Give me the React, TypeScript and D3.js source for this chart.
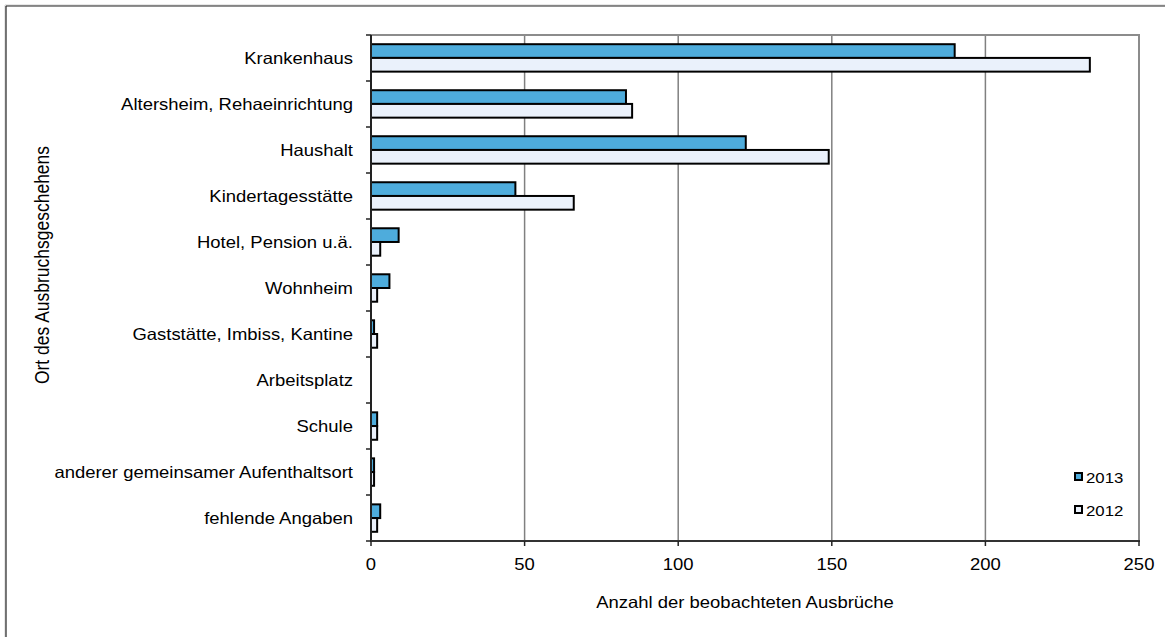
import React from "react";
import * as d3 from "d3";

const categories = [
  "Krankenhaus",
  "Altersheim, Rehaeinrichtung",
  "Haushalt",
  "Kindertagesstätte",
  "Hotel, Pension u.ä.",
  "Wohnheim",
  "Gaststätte, Imbiss, Kantine",
  "Arbeitsplatz",
  "Schule",
  "anderer gemeinsamer Aufenthaltsort",
  "fehlende Angaben",
];
const series2013 = [190, 83, 122, 47, 9, 6, 1, 0, 2, 1, 3];
const series2012 = [234, 85, 149, 66, 3, 2, 2, 0, 2, 1, 2];
const seriesNames = ["2013", "2012"];
const xTicks = [0, 50, 100, 150, 200, 250];

const W = 1165;
const H = 637;
const plot = { left: 371, right: 1139, top: 35, bottom: 541 };
const font = "'Liberation Sans', Arial, sans-serif";
const colors = ["#4EACDC", "#EAF1FB"];
const SX = 1.12;

function T(props: {
  x: number;
  y: number;
  anchor?: "start" | "middle" | "end";
  size: number;
  children: React.ReactNode;
}) {
  return (
    <text
      transform={`translate(${props.x},${props.y}) scale(${SX},1)`}
      textAnchor={props.anchor || "start"}
      fontSize={props.size}
      fill="#000"
    >
      {props.children}
    </text>
  );
}

export default function App() {
  const x = d3.scaleLinear().domain([0, 250]).range([plot.left, plot.right]);
  const y = d3
    .scaleBand<string>()
    .domain(categories)
    .range([plot.top, plot.bottom])
    .paddingInner(0.404)
    .paddingOuter(0.2);
  const sub = d3
    .scaleBand<string>()
    .domain(seriesNames)
    .range([0, y.bandwidth()]);
  const step = (plot.bottom - plot.top) / categories.length;
  const all = [series2013, series2012];

  return (
    <svg
      width={W}
      height={H}
      style={{ position: "absolute", left: 0, top: 0, fontFamily: font }}
    >
      <rect x={0} y={0} width={W} height={H} fill="#fff" />
      {/* outer frame (left & top visible) */}
      <line x1={5} x2={W} y1={5} y2={5} stroke="#d0d0d0" strokeWidth={1} />
      <line x1={5} x2={5} y1={5} y2={H} stroke="#d0d0d0" strokeWidth={1} />
      <line x1={6} x2={W} y1={6} y2={6} stroke="#222" strokeWidth={1.2} />
      <line x1={6} x2={6} y1={6} y2={H} stroke="#222" strokeWidth={1.2} />
      {/* gridlines */}
      {xTicks.slice(1, -1).map((t) => (
        <line
          key={t}
          x1={x(t)}
          x2={x(t)}
          y1={plot.top}
          y2={plot.bottom}
          stroke="#808080"
          strokeWidth={1.5}
        />
      ))}
      {/* plot border top & right */}
      <line x1={plot.left} x2={plot.right + 1} y1={plot.top} y2={plot.top} stroke="#8c8c8c" strokeWidth={2} />
      <line x1={plot.right} x2={plot.right} y1={plot.top} y2={plot.bottom} stroke="#8c8c8c" strokeWidth={2} />
      {/* bars */}
      {categories.map((c, i) =>
        all.map((s, j) =>
          s[i] > 0 ? (
            <rect
              key={c + j}
              x={x(0)}
              y={(y(c) as number) + (sub(seriesNames[j]) as number)}
              width={x(s[i]) - x(0)}
              height={sub.bandwidth()}
              fill={colors[j]}
              stroke="#000"
              strokeWidth={2}
            />
          ) : null
        )
      )}
      {/* axes */}
      <line x1={plot.left} x2={plot.left} y1={plot.top} y2={plot.bottom} stroke="#222" strokeWidth={2} />
      <line x1={plot.left - 1} x2={plot.right + 1} y1={plot.bottom} y2={plot.bottom} stroke="#333" strokeWidth={2} />
      {d3.range(categories.length + 1).map((i) => (
        <line
          key={"yt" + i}
          x1={plot.left - 5}
          x2={plot.left}
          y1={plot.top + step * i}
          y2={plot.top + step * i}
          stroke="#222"
          strokeWidth={1.5}
        />
      ))}
      {xTicks.map((t) => (
        <g key={"xt" + t}>
          <line x1={x(t)} x2={x(t)} y1={plot.bottom} y2={plot.bottom + 5} stroke="#222" strokeWidth={1.5} />
          <T x={x(t)} y={570} anchor="middle" size={16.5}>
            {t}
          </T>
        </g>
      ))}
      {categories.map((c) => (
        <T
          key={"yl" + c}
          x={353}
          y={(y(c) as number) + y.bandwidth() / 2 + 6}
          anchor="end"
          size={16.5}
        >
          {c}
        </T>
      ))}
      <T x={745} y={608} anchor="middle" size={16.5}>
        Anzahl der beobachteten Ausbrüche
      </T>
      <text
        transform={`translate(49, 265) rotate(-90) scale(1, ${SX})`}
        textAnchor="middle"
        fontSize={17.5}
        fill="#000"
      >
        Ort des Ausbruchsgeschehens
      </text>
      {/* legend */}
      {seriesNames.map((n, j) => (
        <g key={"lg" + n} transform={`translate(1075, ${473 + j * 33})`}>
          <rect x={0} y={0} width={7} height={7} fill={colors[j]} stroke="#000" strokeWidth={2} />
          <T x={11} y={9.5} size={15}>
            {n}
          </T>
        </g>
      ))}
    </svg>
  );
}
